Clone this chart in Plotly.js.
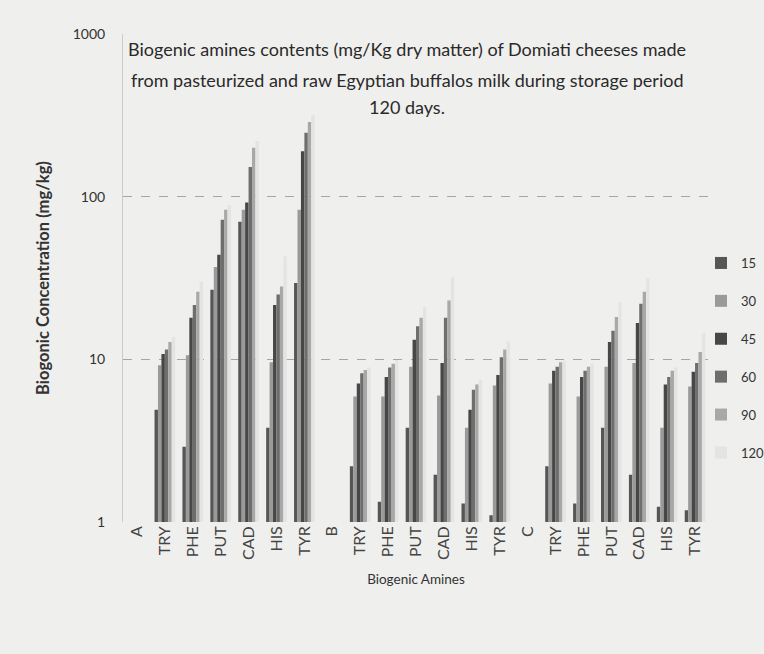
<!DOCTYPE html>
<html>
<head>
<meta charset="utf-8">
<script src="https://cdn.plot.ly/plotly-3.0.1.min.js"></script>
<style>html,body{margin:0;padding:0;background:#efefed;}#chart{width:764px;height:654px;}</style>
</head>
<body>
<div id="chart"></div>
<script>
// Category labels (A, B, C are sample headers with no bars)
const categories = ['A','TRY','PHE','PUT','CAD','HIS','TYR','B','TRY','PHE','PUT','CAD','HIS','TYR','C','TRY','PHE','PUT','CAD','HIS','TYR'];
const seriesNames = ['15','30','45','60','90','120'];
const titleLines = [
  'Biogenic amines contents (mg/Kg dry matter) of Domiati cheeses made',
  'from pasteurized and raw Egyptian buffalos milk during storage period',
  '120 days.'
];

// Values (mg/kg) per storage day
const d15  = [null,4.9,2.9,26.8,70,3.8,29.5, null,2.2,1.33,3.8,1.95,1.3,1.1, null,2.2,1.3,3.8,1.95,1.24,1.18];
const d30  = [null,9.2,10.6,37,83,9.6,83,   null,5.9,5.9,9.0,6.0,3.8,6.9,    null,7.1,5.9,9.0,9.5,3.8,6.8];
const d45  = [null,10.8,18,44,92,21.6,190,  null,7.1,7.8,13.2,9.5,4.9,8.0,   null,8.5,7.8,12.8,16.7,7.0,8.4];
const d60  = [null,11.5,21.6,72,152,25,247, null,8.2,8.9,16,18,6.5,10.3,     null,9.0,8.5,15,22,7.8,9.5];
const d90  = [null,12.8,26,83,200,28,288,   null,8.6,9.4,18,23,7.0,11.5,     null,9.6,9.0,18.2,26,8.5,11.1];
const d120 = [null,13.7,30,89,220,43,318,   null,8.9,9.9,21,32,7.5,12.9,     null,9.8,9.4,22.5,31.6,8.9,14.5];

const seriesValues = [d15, d30, d45, d60, d90, d120];
const colors = ['#565656','#9a9a9a','#474747','#6e6e6e','#a8a8a8','#e4e4e2'];

const xIdx = categories.map((c, i) => i);

const traces = seriesValues.map((vals, k) => ({
  type: 'bar',
  name: seriesNames[k],
  x: xIdx,
  y: vals,
  legendgroup: 'g' + k,
  marker: {color: colors[k], line: {width: 0}}
}));

const font = 'Lato, "Open Sans", sans-serif';
const titleY = [49, 80, 107];

const layout = {
  width: 764, height: 654,
  paper_bgcolor: '#efefed',
  plot_bgcolor: '#efefed',
  margin: {l: 123, r: 55, t: 34, b: 132, autoexpand: false},
  barmode: 'group',
  bargap: 0.26,
  bargroupgap: 0,
  font: {family: font, color: '#333333'},
  title: {text: ''},
  annotations: titleLines.map((t, i) => ({
    text: t, showarrow: false,
    xref: 'paper', x: 0.5 - 9/586, xanchor: 'center',
    yref: 'paper', y: 1 - (titleY[i] - 34) / 488, yanchor: 'middle',
    font: {family: font, size: 18, color: '#2a2a2a'}
  })),
  xaxis: {
    range: [-0.5, categories.length - 0.5],
    tickmode: 'array',
    tickvals: xIdx,
    ticktext: categories,
    tickangle: -90,
    tickfont: {family: font, size: 16, color: '#444'},
    showgrid: false,
    zeroline: false,
    showline: false,
    ticks: '',
    title: {text: 'Biogenic Amines', font: {family: font, size: 13.5, color: '#333'}, standoff: 15}
  },
  yaxis: {
    type: 'log',
    range: [0, 3],
    tickmode: 'array',
    tickvals: [1, 10, 100, 1000],
    ticktext: ['1', '10', '100', '1000'],
    tickfont: {family: font, size: 14, color: '#333'},
    ticklabelstandoff: 14,
    showgrid: true,
    gridcolor: '#a5a5a5',
    griddash: 'dash',
    gridwidth: 1,
    showline: true,
    linecolor: '#cbcbcb',
    linewidth: 1,
    zeroline: false,
    ticks: '',
    ticklen: 0,
    title: {text: '<b>Biogonic Concentration (mg/kg)</b>', font: {family: font, size: 16.5, color: '#333'}, standoff: 18}
  },
  legend: {
    xref: 'container', x: 701/764, xanchor: 'left',
    yref: 'container', y: 1 - 248/654, yanchor: 'top',
    orientation: 'v',
    font: {family: font, size: 13, color: '#333'},
    bgcolor: 'rgba(0,0,0,0)',
    tracegroupgap: 18,
    itemwidth: 30
  },
  showlegend: true
};

Plotly.newPlot('chart', traces, layout, {displayModeBar: false, staticPlot: true});
</script>
</body>
</html>
